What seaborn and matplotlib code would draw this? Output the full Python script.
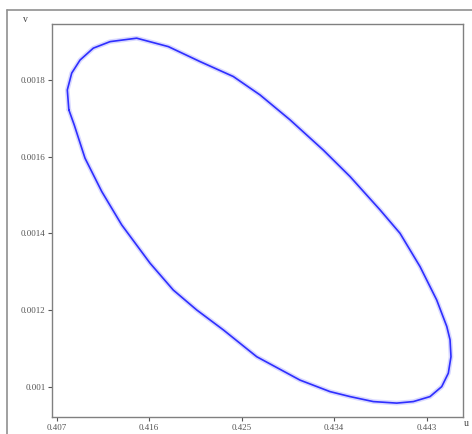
import matplotlib
matplotlib.use("Agg")
import matplotlib.pyplot as plt
import pandas as pd
import seaborn as sns
from matplotlib.lines import Line2D

# limit cycle, clockwise from the left side
u = [0.40818, 0.40803, 0.40846, 0.40927, 0.41056, 0.41219, 0.41478, 0.41786,
     0.42094, 0.42418, 0.42678, 0.42970, 0.43294, 0.43554, 0.43846, 0.44040,
     0.44235, 0.44397, 0.44495, 0.44527, 0.44536, 0.44510, 0.44446, 0.44332,
     0.44170, 0.44008, 0.43780, 0.43554, 0.43359, 0.43067, 0.42646, 0.42321,
     0.42062, 0.41834, 0.41608, 0.41332, 0.41138, 0.40975, 0.40870, 0.40818]
v = [0.001722, 0.001774, 0.001818, 0.001852, 0.001883, 0.001900, 0.001909, 0.001887,
     0.001848, 0.001809, 0.001761, 0.001696, 0.001617, 0.001548, 0.001461, 0.001400,
     0.001313, 0.001226, 0.001157, 0.001122, 0.001078, 0.001035, 0.001000, 0.000974,
     0.000961, 0.000957, 0.000961, 0.000974, 0.000987, 0.001017, 0.001078, 0.001148,
     0.001200, 0.001252, 0.001322, 0.001422, 0.001509, 0.001596, 0.001683, 0.001722]

x_ticks = [0.407, 0.416, 0.425, 0.434, 0.443]
x_labels = ["0.407", "0.416", "0.425", "0.434", "0.443"]
y_ticks = [0.001, 0.0012, 0.0014, 0.0016, 0.0018]
y_labels = ["0.001", "0.0012", "0.0014", "0.0016", "0.0018"]

df = pd.DataFrame({"u": u, "v": v})

sns.set_style("white")
plt.rcParams["font.family"] = ["Liberation Serif", "DejaVu Serif"]

fig = plt.figure(figsize=(4.72, 4.34), dpi=100)
ax = fig.add_axes([0.1095, 0.0385, 0.8721, 0.9062])

# faint halo for the little direction marks along the orbit
sns.lineplot(data=df, x="u", y="v", sort=False, estimator=None, ax=ax,
             color="#8080ff", linewidth=3.4, alpha=0.3)
sns.lineplot(data=df, x="u", y="v", sort=False, estimator=None, ax=ax,
             color="#2e2eff", linewidth=1.2)

ax.set_xlim(0.40651, 0.44656)
ax.set_ylim(0.00092, 0.001946)
ax.set_xticks(x_ticks)
ax.set_xticklabels(x_labels)
ax.set_yticks(y_ticks)
ax.set_yticklabels(y_labels)
ax.tick_params(axis="both", labelsize=6.5, colors="#555555", length=3,
               width=0.8, direction="out", pad=1.5)
ax.tick_params(axis="x", bottom=True)
ax.tick_params(axis="y", left=True)
ax.set_xlabel("")
ax.set_ylabel("")
for sp in ax.spines.values():
    sp.set_color("#808080")
    sp.set_linewidth(1.0)

fig.text(25 / 472, 1 - 20 / 434, "v", fontsize=7, color="#444444",
         ha="center", va="center")
fig.text(466 / 472, 1 - 424 / 434, "u", fontsize=7, color="#444444",
         ha="center", va="center")

# outer frame of the window
fig.add_artist(Line2D([7 / 472, 7 / 472], [0, 1 - 10 / 434],
                      transform=fig.transFigure, color="#909090", linewidth=1.2))
fig.add_artist(Line2D([7 / 472, 1], [1 - 10 / 434, 1 - 10 / 434],
                      transform=fig.transFigure, color="#909090", linewidth=1.2))

fig.savefig("out.png", dpi=100)
plt.close(fig)
